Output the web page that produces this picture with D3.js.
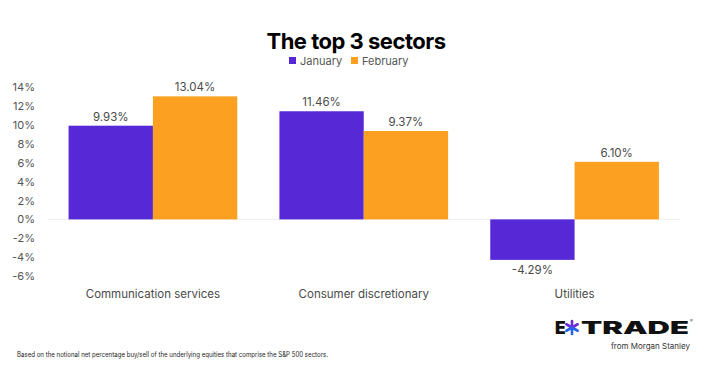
<!DOCTYPE html>
<html>
<head>
<meta charset="utf-8">
<script src="https://cdn.jsdelivr.net/npm/d3@7"></script>
<style>
  body { margin: 0; background: #fff; }
  svg { display: block; font-family: Inter, "Noto Sans", sans-serif; }
</style>
</head>
<body>
<div id="chart"></div>
<script>
const categories = ["Communication services", "Consumer discretionary", "Utilities"];
const seriesNames = ["January", "February"];
const january = [9.93, 11.46, -4.29];
const february = [13.04, 9.37, 6.10];
const yTicks = [-6, -4, -2, 0, 2, 4, 6, 8, 10, 12, 14];
const colors = ["#5628d6", "#fba020"];

const W = 713, H = 373;
const svg = d3.select("#chart").append("svg")
    .attr("width", W)
    .attr("height", H);

// Scales
const x = d3.scaleBand()
    .domain(categories)
    .range([47.5, 680])
    .paddingInner(0.2)
    .paddingOuter(0.1);

const xInner = d3.scaleBand()
    .domain(seriesNames)
    .range([0, x.bandwidth()]);

const y = d3.scaleLinear()
    .domain([-6, 14])
    .range([276, 87.3]);

// Title
svg.append("text")
    .attr("x", 356)
    .attr("y", 49)
    .attr("text-anchor", "middle")
    .style("font-size", "22px")
    .style("font-weight", "bold")
    .style("letter-spacing", "-0.5px")
    .style("fill", "#000")
    .text("The top 3 sectors");

// Legend
const legend = [
    { name: "January", x: 289 },
    { name: "February", x: 351 }
];
legend.forEach((l, i) => {
    svg.append("rect")
        .attr("x", l.x)
        .attr("y", 57)
        .attr("width", 7)
        .attr("height", 7)
        .attr("fill", colors[i]);
    svg.append("text")
        .attr("x", l.x + 11)
        .attr("y", 65)
        .style("font-size", "11px")
        .style("fill", "#555")
        .text(seriesNames[i]);
});

// Y axis labels
svg.append("g")
    .selectAll("text")
    .data(yTicks)
    .enter()
    .append("text")
    .attr("x", 35)
    .attr("y", d => y(d) + 4)
    .attr("text-anchor", "end")
    .style("font-size", "11px")
    .style("fill", "#555")
    .text(d => `${d}%`);

// Zero line
svg.append("line")
    .attr("x1", x.range()[0])
    .attr("x2", x.range()[1])
    .attr("y1", y(0))
    .attr("y2", y(0))
    .attr("stroke", "#eeeeee")
    .attr("stroke-width", 1);

// Bars
const rows = [];
categories.forEach((c, i) => {
    rows.push({ cat: c, series: "January", value: january[i], color: colors[0] });
    rows.push({ cat: c, series: "February", value: february[i], color: colors[1] });
});

svg.append("g")
    .selectAll("rect")
    .data(rows)
    .enter()
    .append("rect")
    .attr("x", d => x(d.cat) + xInner(d.series))
    .attr("y", d => y(Math.max(0, d.value)))
    .attr("width", xInner.bandwidth())
    .attr("height", d => Math.abs(y(d.value) - y(0)))
    .attr("fill", d => d.color);

// Value labels
svg.append("g")
    .selectAll("text")
    .data(rows)
    .enter()
    .append("text")
    .attr("x", d => x(d.cat) + xInner(d.series) + xInner.bandwidth() / 2)
    .attr("y", d => d.value >= 0 ? y(d.value) - 5 : y(d.value) + 14)
    .attr("text-anchor", "middle")
    .style("font-size", "11.5px")
    .style("fill", "#4a4a4a")
    .text(d => `${d.value.toFixed(2)}%`);

// Category labels
svg.append("g")
    .selectAll("text")
    .data(categories)
    .enter()
    .append("text")
    .attr("x", d => x(d) + x.bandwidth() / 2)
    .attr("y", 298)
    .attr("text-anchor", "middle")
    .style("font-size", "11.5px")
    .style("fill", "#4a4a4a")
    .text(d => d);

// Footnote
svg.append("text")
    .attr("x", 17)
    .attr("y", 357)
    .attr("textLength", 311)
    .attr("lengthAdjust", "spacingAndGlyphs")
    .style("font-size", "7px")
    .style("fill", "#222")
    .text("Based on the notional net percentage buy/sell of the underlying equities that comprise the S&P 500 sectors.");

// Logo
const logo = svg.append("g");
logo.append("text")
    .attr("x", 555)
    .attr("y", 334)
    .style("font-size", "17.5px")
    .style("font-weight", "900")
    .style("fill", "#111")
    .text("E");
const cx = 572, cy = 327.5, r = 6.5;
[90, 30, 150].forEach(a => {
    const rad = a * Math.PI / 180;
    const dx = Math.cos(rad) * r, dy = Math.sin(rad) * r;
    logo.append("line")
        .attr("x1", cx).attr("y1", cy)
        .attr("x2", cx - dx).attr("y2", cy - dy)
        .attr("stroke", "#6a2ad8").attr("stroke-width", 2.6).attr("stroke-linecap", "round");
    logo.append("line")
        .attr("x1", cx).attr("y1", cy)
        .attr("x2", cx + dx).attr("y2", cy + dy)
        .attr("stroke", "#2563e8").attr("stroke-width", 2.6).attr("stroke-linecap", "round");
});
logo.append("text")
    .attr("x", 581)
    .attr("y", 334)
    .attr("textLength", 108)
    .attr("lengthAdjust", "spacingAndGlyphs")
    .style("font-size", "17.5px")
    .style("font-weight", "900")
    .style("fill", "#111")
    .text("TRADE");
logo.append("text")
    .attr("x", 690)
    .attr("y", 322)
    .style("font-size", "4px")
    .style("fill", "#111")
    .text("®");
logo.append("text")
    .attr("x", 690)
    .attr("y", 349)
    .attr("text-anchor", "end")
    .style("font-size", "8px")
    .style("fill", "#333")
    .text("from Morgan Stanley");
</script>
</body>
</html>
